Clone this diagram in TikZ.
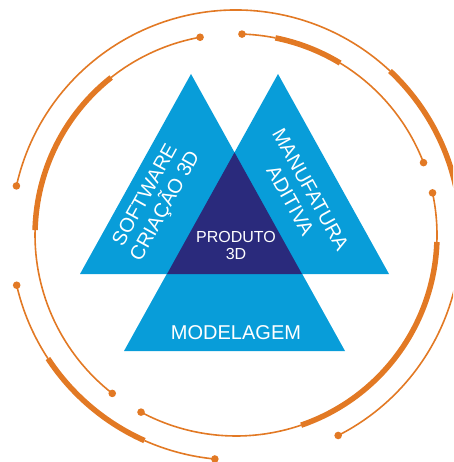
\documentclass[tikz,border=0pt]{standalone}
\usepackage{fontspec}
\setmainfont{Liberation Sans}
\definecolor{skyblue}{RGB}{8,157,217}
\definecolor{navy}{RGB}{42,42,124}
\definecolor{ringorange}{RGB}{226,121,36}
\tikzset{
  thinring/.style={draw=ringorange, line width=1.6pt},
  thickring/.style={draw=ringorange, line width=5.5pt},
  ringdot/.style={fill=ringorange},
  lbl/.style={text=white, align=center, inner sep=0pt, font=\fontsize{20}{23}\selectfont},
  lblsmall/.style={text=white, align=center, inner sep=0pt, font=\fontsize{16}{17.3}\selectfont}
}
% arc of radius #4 from angle #2 to angle #3 (centre at scope origin)
\newcommand{\ringarc}[4][thinring]{\draw[#1] (#2:#4) arc[start angle=#2, end angle=#3, radius=#4];}
\newcommand{\ringdotat}[2]{\fill[ringdot] (#1:#2) circle[radius=3.8];}
\begin{document}
\begin{tikzpicture}[x=1pt,y=-1pt]
\useasboundingbox (0,0) rectangle (453,462);
\clip (0,0) rectangle (453,462);

% three overlapping triangles
\fill[skyblue] (80,274) -- (191,74) -- (302,274) -- cycle;
\fill[skyblue] (167,274) -- (278,74) -- (389,274) -- cycle;
\fill[skyblue] (124,351) -- (234.5,152) -- (345,351) -- cycle;
% common core
\fill[navy] (167,274) -- (234.5,152.4) -- (302,274) -- cycle;

\node[lbl, rotate=61] (software) at (156,201) {SOFTWARE\\CRIAÇÃO 3D};
\node[lbl, rotate=-61] (manufatura) at (300.5,195) {MANUFATURA\\ADITIVA};
\node[lbl] (modelagem) at (236,332.5) {MODELAGEM};
\node[lblsmall] (produto) at (236,245.5) {PRODUTO\\3D};

% orange rings around the triangles
\begin{scope}[shift={(236,235)}, y=1pt]
  % inner ring, three arcs
  \ringarc{100.3}{128.4}{201}
  \ringarc[thickring]{128.4}{178.6}{201}
  \ringarc{178.6}{232}{201}
  \ringdotat{100.3}{201}
  \ringdotat{232}{201}

  \ringarc{241.8}{288.9}{201}
  \ringarc[thickring]{288.9}{358}{201}
  \ringarc{358}{372.1}{201}
  \ringdotat{241.8}{201}
  \ringdotat{12.1}{201}

  \ringarc{88.3}{78.7}{201}
  \ringarc[thickring]{78.7}{58.8}{201}
  \ringarc{58.8}{21.1}{201}
  \ringdotat{88.3}{201}
  \ringdotat{21.1}{201}

  % outer ring, two arcs
  \ringarc{167.4}{46.8}{225}
  \ringarc[thickring]{46.8}{8}{225}
  \ringarc{8}{-63}{225}
  \ringdotat{167.4}{225}
  \ringdotat{-63}{225}

  \ringarc{192.9}{213.3}{225}
  \ringarc[thickring]{213.3}{246}{225}
  \ringarc{246}{264.6}{225}
  \ringdotat{192.9}{225}
  \ringdotat{264.6}{225}
\end{scope}
\end{tikzpicture}
\end{document}
